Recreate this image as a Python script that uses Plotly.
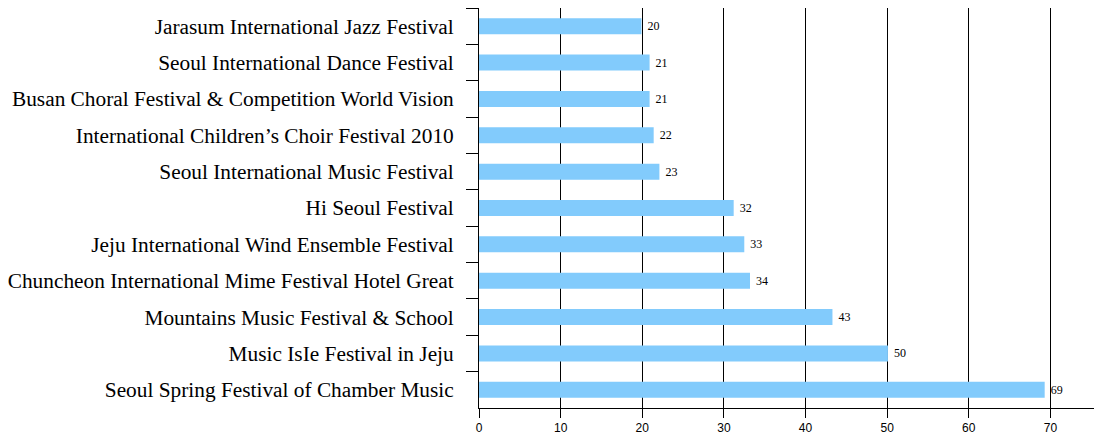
import plotly.graph_objects as go

categories = [
    "Jarasum International Jazz Festival",
    "Seoul International Dance Festival",
    "Busan Choral Festival & Competition World Vision",
    "International Children\u2019s Choir Festival 2010",
    "Seoul International Music Festival",
    "Hi Seoul Festival",
    "Jeju International Wind Ensemble Festival",
    "Chuncheon International Mime Festival Hotel Great",
    "Mountains Music Festival & School",
    "Music IsIe Festival in Jeju",
    "Seoul Spring Festival of Chamber Music",
]
values = [19.9, 20.9, 20.9, 21.4, 22.1, 31.2, 32.5, 33.2, 43.3, 50.1, 69.3]
value_labels = ["20", "21", "21", "22", "23", "32", "33", "34", "43", "50", "69"]
x_ticks = [0, 10, 20, 30, 40, 50, 60, 70]

fig = go.Figure(
    go.Bar(
        y=categories,
        x=values,
        orientation="h",
        width=0.44,
        marker=dict(color="#82CBFC", line=dict(width=0)),
        text=[" " + s for s in value_labels],
        textposition="outside",
        textfont=dict(family="Liberation Serif", size=12, color="#000000"),
        cliponaxis=False,
    )
)

# page body has an 8px default margin: compensate so the plot sits where the reference has it
fig.update_layout(
    width=1094,
    height=431,
    margin=dict(l=471, r=1, t=0, b=31),
    paper_bgcolor="white",
    plot_bgcolor="white",
    showlegend=False,
)

fig.update_xaxes(
    range=[0, 76.2],
    tickvals=x_ticks,
    ticktext=[str(v) for v in x_ticks],
    showgrid=True,
    gridcolor="#000000",
    gridwidth=1,
    zeroline=False,
    showline=True,
    linecolor="#000000",
    linewidth=1,
    ticks="outside",
    ticklen=9,
    tickcolor="#000000",
    tickfont=dict(family="Liberation Sans", size=12, color="#000000"),
)

fig.update_yaxes(
    autorange="reversed",
    showgrid=False,
    showline=True,
    linecolor="#000000",
    linewidth=1,
    ticks="outside",
    tickson="boundaries",
    ticklen=12,
    tickcolor="#000000",
    tickfont=dict(family="Liberation Serif", size=21.33, color="#000000"),
    ticklabelstandoff=20,
)

fig.write_html("out.html")
